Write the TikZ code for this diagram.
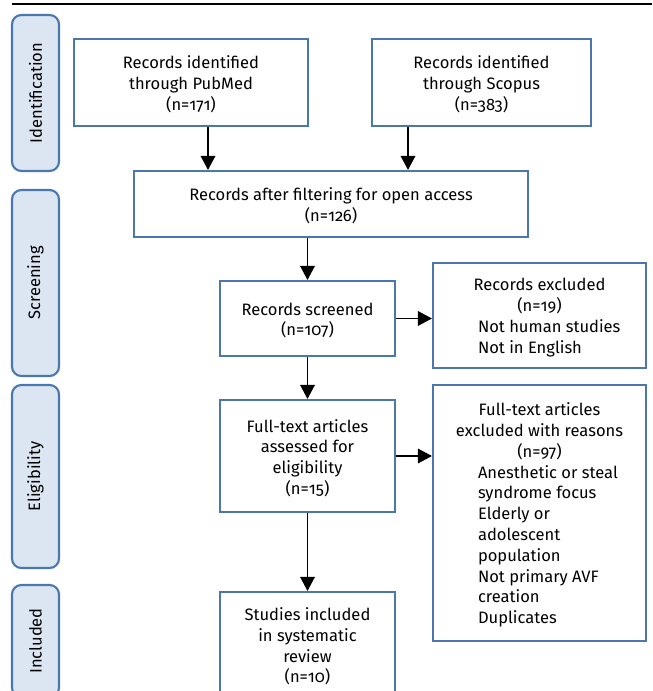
\documentclass[tikz,border=0pt]{standalone}
\usepackage{fontspec}
\setmainfont{Fira Sans}[Numbers=OldStyle]
\usetikzlibrary{arrows.meta,fit}
\definecolor{bordc}{HTML}{4A78AE}
\definecolor{sidefill}{HTML}{DCE6F2}
\newcommand{\li}[1]{\makebox[92.25pt][l]{#1}}
\begin{document}
\begin{tikzpicture}[x=0.75pt,y=-0.75pt,
  box/.style={draw=bordc, line width=1.6pt, fill=white, inner sep=0pt},
  txt/.style={align=center, inner sep=0pt, yshift=-1.5pt, font=\fontsize{12.4}{15.6}\selectfont},
  side/.style={draw=bordc, line width=1.6pt, fill=sidefill, rounded corners=7pt, inner sep=0pt},
  sidetxt/.style={rotate=90, font=\fontsize{12.4}{15.6}\selectfont},
  arr/.style={-{Triangle[width=11pt,length=10.5pt]}, line width=0.8pt}]
\useasboundingbox (0,0) rectangle (652,691);
\clip (0,0) rectangle (652,691);
\coordinate (tl) at (12,4);
\coordinate (tr) at (652,4);
\draw[line width=0.9pt] (tl) -- (tr);
% side labels
\node[side, fit={(12,15) (59,171)}] (s1) {};
\node[sidetxt] at (s1.center) (s1t) {Identification};
\node[side, fit={(12,190) (59,376)}] (s2) {};
\node[sidetxt] at (s2.center) (s2t) {Screening};
\node[side, fit={(12,385) (59,568)}] (s3) {};
\node[sidetxt] at (s3.center) (s3t) {Eligibility};
\node[side, fit={(12,585) (59,697)}] (s4) {};
\node[sidetxt] at (s4.center) (s4t) {Included};
% boxes
\node[box, fit={(74,39) (308,126)}] (pub) {};
\node[txt] at (pub.center) (pubt) {Records identified\\through PubMed\\(n=171)};
\node[box, fit={(372,39) (591,126)}] (sco) {};
\node[txt] at (sco.center) (scot) {Records identified\\through Scopus\\(n=383)};
\node[box, fit={(134,171) (528,237)}] (oa) {};
\node[txt] at (oa.center) (oat) {Records after filtering for open access\\(n=126)};
\node[box, fit={(220,281) (395,356)}] (scr) {};
\node[txt] at (scr.center) (scrt) {Records screened\\(n=107)};
\node[box, fit={(433,263) (646,368)}] (ex1) {};
\node[txt] at (ex1.center) (ex1t) {Records excluded\\(n=19)\\\li{Not human studies}\\\li{Not in English}};
\node[box, fit={(220,400) (395,512)}] (ft) {};
\node[txt] at (ft.center) (ftt) {Full-text articles\\assessed for\\eligibility\\(n=15)};
\node[box, fit={(433,385) (646,641)}] (ex2) {};
\node[txt] at (ex2.center) (ex2t) {Full-text articles\\excluded with reasons\\(n=97)\\\li{Anesthetic or steal}\\\li{syndrome focus}\\\li{Elderly or}\\\li{adolescent}\\\li{population}\\\li{Not primary AVF}\\\li{creation}\\\li{Duplicates}};
\node[box, fit={(220,592) (395,697)}] (inc) {};
\node[txt] at (inc.center) (inct) {Studies included\\in systematic\\review\\(n=10)};
% arrows
\draw[arr] (pub.south -| 208,0) -- (oa.north -| 208,0);
\draw[arr] (sco.south -| 408,0) -- (oa.north -| 408,0);
\draw[arr] (oa.south -| scr.north) -- (scr.north);
\draw[arr] (scr.east) -- (scr.east -| ex1.west);
\draw[arr] (scr) -- (ft);
\draw[arr] (ft.east) -- (ft.east -| ex2.west);
\draw[arr] (ft) -- (inc);
\end{tikzpicture}
\end{document}
